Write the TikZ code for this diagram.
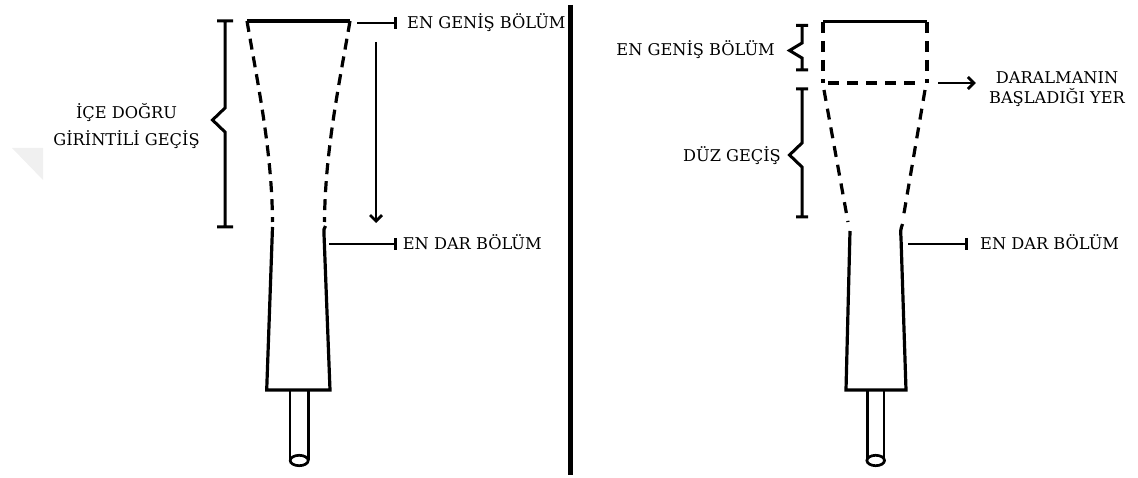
\documentclass[tikz,border=0pt]{standalone}
\usepackage{fontspec}
\setmainfont{DejaVu Serif}
\usetikzlibrary{arrows.meta}
\begin{document}
\begin{tikzpicture}[x=1pt,y=-1pt,
  wall/.style={line width=3.2pt},
  rod/.style={line width=2.7pt},
  dashL/.style={line width=3.2pt,dash pattern=on 11pt off 7pt},
  dashR/.style={line width=3.2pt,dash pattern=on 11pt off 8pt},
  brace/.style={line width=3pt},
  lbl/.style={font=\fontsize{16.2}{19.5}\selectfont,inner sep=0pt},
  marker/.style={line width=2.8pt,-{Bar[width=12pt,line width=2.8pt]}},
  pointer/.style={line width=2.8pt,-{Straight Barb[length=6pt,width=12pt,line width=2.8pt]}},
]
\useasboundingbox (0,0) rectangle (1138,478);

% faint grey corner mark at the far left
\fill[black!6] (12,148) -- (43,148) -- (43,180) -- cycle;

% ---------------- left: inward-curving transition ----------------
\draw[wall] (247,21) -- (350,21);
\draw[dashL] (247,21) .. controls (257,80) and (272,150) .. (272.5,222);
\draw[dashL] (350,21) .. controls (340,80) and (325,150) .. (324.5,222);
\draw[wall] (272.5,227) -- (266.7,390) -- (330,390) -- (324,234) .. controls (323.8,229) .. (325.5,226);
\draw[rod] (290,390) -- (290,460) (308.3,390) -- (308.3,460);
\draw[rod,fill=white] (299.2,460.5) ellipse [x radius=9, y radius=5.2];

% brace beside the curved part
\draw[brace] (217,21) -- (233,21) (225,21) -- (225,108) -- (212.5,120) -- (225,132) -- (225,227) (217,227) -- (233,227);
\node[lbl,align=center] (ltrans) at (126.5,126) {İÇE DOĞRU\\[7pt]GİRİNTİLİ GEÇİŞ};

% labels for the widest and narrowest sections
\node[lbl,anchor=base west] (lwide) at (407,29) {EN GENİŞ BÖLÜM};
\coordinate (lwideS) at (357,23);
\draw[marker,shorten >=10pt] (lwideS) -- (lwideS -| lwide.west);

\node[lbl,anchor=base west] (lnarrow) at (402.7,250) {EN DAR BÖLÜM};
\coordinate (lnarrowS) at (329,244);
\draw[marker,shorten >=5.7pt] (lnarrowS) -- (lnarrowS -| lnarrow.west);

% flow direction
\coordinate (dtop) at (376,42);
\coordinate (dbot) at (376,223);
\draw[pointer] (dtop) -- (dbot);

% ---------------- divider ----------------
\draw[line width=5.5pt] (570.5,5) -- (570.5,475);

% ---------------- right: straight transition ----------------
\draw[wall] (823,21.5) -- (927,21.5);
\draw[dashR] (823,22) -- (823,83);
\draw[dashR] (927,22) -- (927,83);
\draw[dashR] (828,83) -- (922,83);
\draw[dashR] (824,90) -- (848,222);
\draw[dashR] (925,90) -- (903,219);
\draw[wall] (850,231) -- (846,390) -- (906,390) -- (901,238) .. controls (900.5,230) .. (902.5,224);
\draw[rod] (867.5,390) -- (867.5,460) (884,390) -- (884,460);
\draw[rod,fill=white] (875.7,460.5) ellipse [x radius=8.8, y radius=5.2];

% braces for the wide section and the straight part
\draw[brace] (796,25.5) -- (808,25.5) (802,25.5) -- (802,43) -- (789.5,50.5) -- (802,58) -- (802,70) (796,70) -- (808,70);
\draw[brace] (796,89) -- (808,89) (802,89) -- (802,143) -- (789.5,155) -- (802,167) -- (802,217) (796,217) -- (808,217);
\node[lbl,anchor=base east] (rwide) at (775,56) {EN GENİŞ BÖLÜM};
\node[lbl,anchor=base east] (rtrans) at (781,162) {DÜZ GEÇİŞ};

% where the narrowing begins
\node[lbl,align=center] (rstart) at (1057,89) {DARALMANIN\\BAŞLADIĞI YER};
\coordinate (rstartS) at (938,83);
\draw[pointer,shorten >=13pt] (rstartS) -- (rstartS -| rstart.west);

\node[lbl,anchor=base west] (rnarrow) at (980,250) {EN DAR BÖLÜM};
\coordinate (rnarrowS) at (908,244);
\draw[marker,shorten >=12pt] (rnarrowS) -- (rnarrowS -| rnarrow.west);
\end{tikzpicture}
\end{document}
